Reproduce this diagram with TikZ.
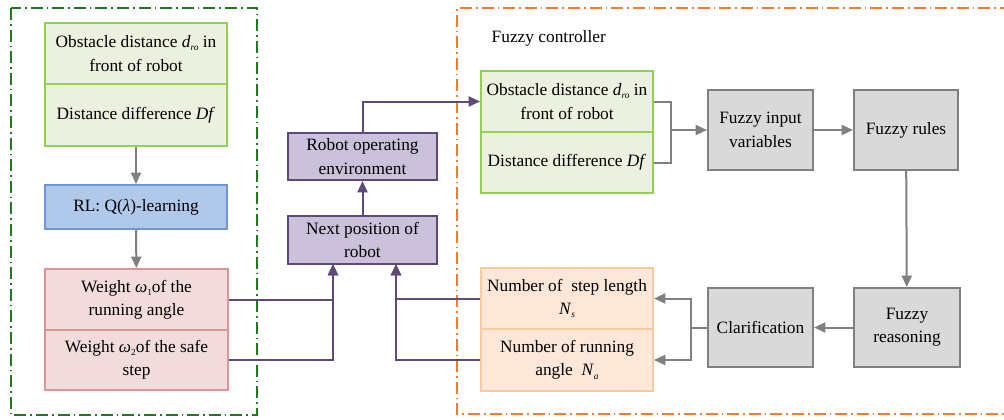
\documentclass[tikz,border=0pt]{standalone}
\usepackage{fontspec}
\setmainfont{Liberation Serif}
\usetikzlibrary{arrows.meta}
\definecolor{grnfill}{HTML}{EBF1DE}
\definecolor{grnline}{HTML}{92D050}
\definecolor{bluefill}{HTML}{B0C8EA}
\definecolor{blueline}{HTML}{6F96D8}
\definecolor{pinkfill}{HTML}{F2DCDB}
\definecolor{pinkline}{HTML}{D99694}
\definecolor{purpfill}{HTML}{CCC1DA}
\definecolor{purpline}{HTML}{5F497A}
\definecolor{grayfill}{HTML}{D9D9D9}
\definecolor{grayline}{HTML}{808080}
\definecolor{orfill}{HTML}{FCE7D8}
\definecolor{orline}{HTML}{F9C9A0}
\definecolor{framegrn}{HTML}{1E7A1E}
\definecolor{frameor}{HTML}{ED7D31}
\newcommand{\subIt}[2]{\textit{#1}\raisebox{-0.4ex}{\scriptsize\textit{#2}}}
\newcommand{\wSub}[1]{\textit{ω}\raisebox{-0.4ex}{\scriptsize #1}}

\begin{document}
\begin{tikzpicture}[x=0.75pt,y=-0.75pt,
  font=\fontsize{13}{17.5}\selectfont,
  sz/.style 2 args={minimum width=#1*0.75pt, minimum height=#2*0.75pt, inner sep=1pt, align=center},
  grnbox/.style={draw=grnline, fill=grnfill, line width=1.5pt},
  bluebox/.style={draw=blueline, fill=bluefill, line width=1.5pt},
  pinkbox/.style={draw=pinkline, fill=pinkfill, line width=1.5pt},
  purpbox/.style={draw=purpline, fill=purpfill, line width=1.5pt},
  graybox/.style={draw=grayline, fill=grayfill, line width=1.5pt},
  orbox/.style={draw=orline, fill=orfill, line width=1.5pt},
  garrow/.style={draw=grayline, line width=1.5pt, -{Triangle[length=8.5pt,width=7.5pt]}},
  gline/.style={draw=grayline, line width=1.5pt},
  parrow/.style={draw=purpline, line width=1.5pt, -{Triangle[length=8.5pt,width=7.5pt]}},
  frame/.style={line width=1.5pt, dash pattern=on 9pt off 3pt on 1.2pt off 3pt}]
\useasboundingbox (0,0) rectangle (1004,419);
% frames
\draw[frame, framegrn] (11,8) rectangle (257,415);
\draw[frame, frameor] (1012,8) -- (457,8) -- (457,414) -- (1012,414);
\node[anchor=west] (fzlabel) at (487,38) {Fuzzy controller};
% left column
\node[grnbox, sz={182}{61}] (obsL) at (136,53.5) {Obstacle distance \subIt{d}{ro} in\\front of robot};
\node[grnbox, sz={182}{62}] (difL) at (136,115) {Distance difference \textit{Df}};
\node[bluebox, sz={182}{44}] (rl) at (136,207) {RL: Q(\textit{λ})-learning};
\node[pinkbox, sz={183}{61}] (w1) at (136.5,299.5) {Weight \wSub{1}of the\\running angle};
\node[pinkbox, sz={183}{60}] (w2) at (136.5,360) {Weight \wSub{2}of the safe\\step};
% middle
\node[purpbox, sz={149}{47}] (env) at (362.5,156.5) {Robot operating\\environment};
\node[purpbox, sz={149}{48}] (next) at (362.5,240) {Next position of\\robot};
\coordinate (nxl) at (333,264);
\coordinate (nxr) at (396,264);
% fuzzy controller
\node[grnbox, sz={172}{61}] (obsR) at (567,101.5) {Obstacle distance \subIt{d}{ro} in\\front of robot};
\node[grnbox, sz={172}{61}] (difR) at (567,162.5) {Distance difference \textit{Df}};
\node[graybox, sz={105}{80}] (finput) at (760.5,130) {Fuzzy input\\variables};
\node[graybox, sz={104}{80}] (frules) at (906,130) {Fuzzy rules};
\node[graybox, sz={106}{79}] (freason) at (907,327.5) {Fuzzy\\reasoning};
\node[graybox, sz={105}{79}] (clar) at (760.5,327.5) {Clarification};
\node[orbox, sz={172}{61}] (ns) at (567,298.5) {Number of\ \ step length\\\subIt{N}{s}};
\node[orbox, sz={172}{62}] (na) at (567,360) {Number of running\\angle\ \ \subIt{N}{a}};
\coordinate (jin) at (671,130);
\coordinate (jout) at (691,327.5);
% connectors
\draw[garrow] (difL) -- (rl);
\draw[garrow] (rl) -- (w1);
\draw[parrow] (w1.east) -| (nxl);
\draw[parrow] (w2.east) -| (nxl);
\draw[parrow] (ns.west) -| (nxr);
\draw[parrow] (na.west) -| (nxr);
\draw[parrow] (next) -- (env);
\draw[parrow] (env.north) |- (obsR.west);
\draw[gline] (obsR.east) -| (jin) |- (difR.east);
\draw[garrow] (jin) -- (finput);
\draw[garrow] (finput) -- (frules);
\draw[garrow] (frules) -- (freason);
\draw[garrow] (freason) -- (clar);
\draw[gline] (clar.west) -- (jout);
\draw[garrow] (jout) |- (ns.east);
\draw[garrow] (jout) |- (na.east);
\end{tikzpicture}
\end{document}
